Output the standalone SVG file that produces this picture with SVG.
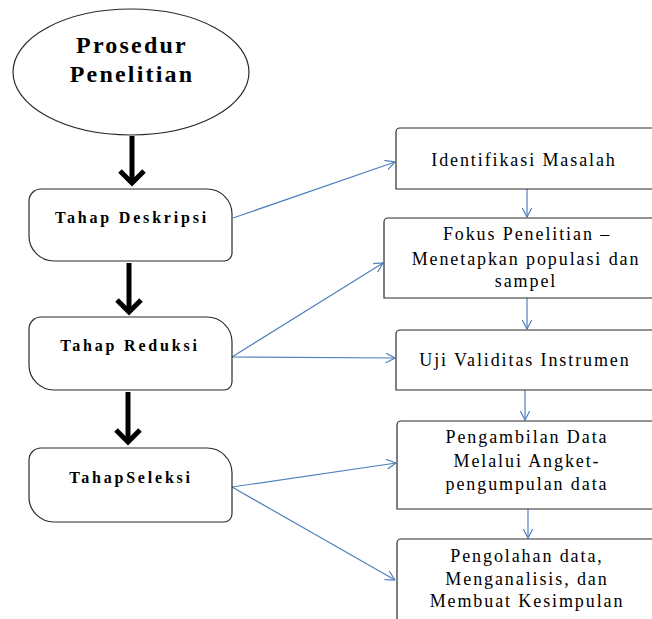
<svg xmlns="http://www.w3.org/2000/svg" width="652" height="619" viewBox="0 0 652 619">
<defs>
<style>
.bg{fill:#ffffff}
.node{fill:#ffffff;stroke:#2b2b2b;stroke-width:1.2}
.ttl{font-family:'Liberation Serif','DejaVu Serif','Times New Roman',serif;font-weight:bold;font-size:24px;letter-spacing:2.2px;fill:#000;text-anchor:middle}
.lbl{font-family:'Liberation Serif','DejaVu Serif','Times New Roman',serif;font-weight:bold;font-size:16px;letter-spacing:2.8px;fill:#000;text-anchor:middle}
.txt{font-family:'Liberation Serif','DejaVu Serif','Times New Roman',serif;font-size:18px;letter-spacing:1.9px;fill:#000;text-anchor:middle}
.thick{stroke:#000;stroke-width:5;fill:none;stroke-linecap:butt}
.chev{stroke:#000;stroke-width:5;fill:none;stroke-linejoin:miter}
.blue{stroke:#4f81bd;stroke-width:1.2;fill:none;marker-end:url(#ah)}
</style>
<marker id="ah" viewBox="0 0 10 10" refX="9.5" refY="5" markerWidth="10" markerHeight="10" markerUnits="userSpaceOnUse" orient="auto">
<path d="M0,0 L9.5,5 L0,10" fill="none" stroke="#4f81bd" stroke-width="1.2"/>
</marker>
</defs>
<rect class="bg" x="0" y="0" width="652" height="619"/>

<g id="connectors">
<line class="thick" x1="132" y1="136" x2="132" y2="182"/>
<polyline class="chev" points="120,171 132,183 144,171"/>
<line class="thick" x1="129" y1="263" x2="129" y2="311"/>
<polyline class="chev" points="117,300 129,312 141,300"/>
<line class="thick" x1="128" y1="392" x2="128" y2="441"/>
<polyline class="chev" points="116,430 128,442 140,430"/>

<line class="blue" x1="233" y1="218" x2="395" y2="162"/>
<line class="blue" x1="232" y1="357" x2="383" y2="263"/>
<line class="blue" x1="232" y1="357" x2="395" y2="358"/>
<line class="blue" x1="232" y1="487" x2="396" y2="463"/>
<line class="blue" x1="232" y1="487" x2="395" y2="580"/>
<line class="blue" x1="527" y1="189" x2="527" y2="217"/>
<line class="blue" x1="527" y1="298" x2="527" y2="329"/>
<line class="blue" x1="525" y1="390" x2="525" y2="420"/>
<line class="blue" x1="528" y1="509" x2="528" y2="538"/>
</g>

<g id="prosedur">
<ellipse class="node" cx="131" cy="72" rx="118" ry="63"/>
<text class="ttl" x="132" y="53" font-family="Liberation Serif, serif">Prosedur</text>
<text class="ttl" x="132" y="82" font-family="Liberation Serif, serif">Penelitian</text>
</g>

<g id="tahap-deskripsi">
<path class="node" d="M41,189 H207 A25,25 0 0 1 232,214 V253 A8,8 0 0 1 224,261 H54 A25,25 0 0 1 29,236 V201 A12,12 0 0 1 41,189 Z"/>
<text class="lbl" x="132" y="223">Tahap Deskripsi</text>
</g>

<g id="tahap-reduksi">
<path class="node" d="M41,317 H207 A25,25 0 0 1 232,342 V382 A8,8 0 0 1 224,390 H54 A25,25 0 0 1 29,365 V329 A12,12 0 0 1 41,317 Z"/>
<text class="lbl" x="130" y="351">Tahap Reduksi</text>
</g>

<g id="tahap-seleksi">
<path class="node" d="M41,448 H207 A25,25 0 0 1 232,473 V514 A8,8 0 0 1 224,522 H54 A25,25 0 0 1 29,497 V460 A12,12 0 0 1 41,448 Z"/>
<text class="lbl" x="131" y="483">TahapSeleksi</text>
</g>

<g id="identifikasi">
<path class="node" d="M400,128 H662 V189 H396 V132 A4,4 0 0 1 400,128 Z"/>
<text class="txt" x="524" y="166">Identifikasi Masalah</text>
</g>

<g id="fokus">
<path class="node" d="M388,218 H662 V298 H384 V222 A4,4 0 0 1 388,218 Z"/>
<text class="txt" x="527" y="240">Fokus Penelitian –</text>
<text class="txt" x="526" y="265">Menetapkan populasi dan</text>
<text class="txt" x="526" y="287">sampel</text>
</g>

<g id="uji">
<path class="node" d="M400,330 H662 V390 H396 V334 A4,4 0 0 1 400,330 Z"/>
<text class="txt" x="525" y="366">Uji Validitas Instrumen</text>
</g>

<g id="pengambilan">
<path class="node" d="M401,421 H662 V509 H397 V425 A4,4 0 0 1 401,421 Z"/>
<text class="txt" x="527" y="443">Pengambilan Data</text>
<text class="txt" x="527" y="467">Melalui Angket-</text>
<text class="txt" x="527" y="490">pengumpulan data</text>
</g>

<g id="pengolahan">
<path class="node" d="M401,539 H662 V630 H397 V543 A4,4 0 0 1 401,539 Z"/>
<text class="txt" x="527" y="562">Pengolahan data,</text>
<text class="txt" x="527" y="585">Menganalisis, dan</text>
<text class="txt" x="527" y="607">Membuat Kesimpulan</text>
</g>
</svg>
